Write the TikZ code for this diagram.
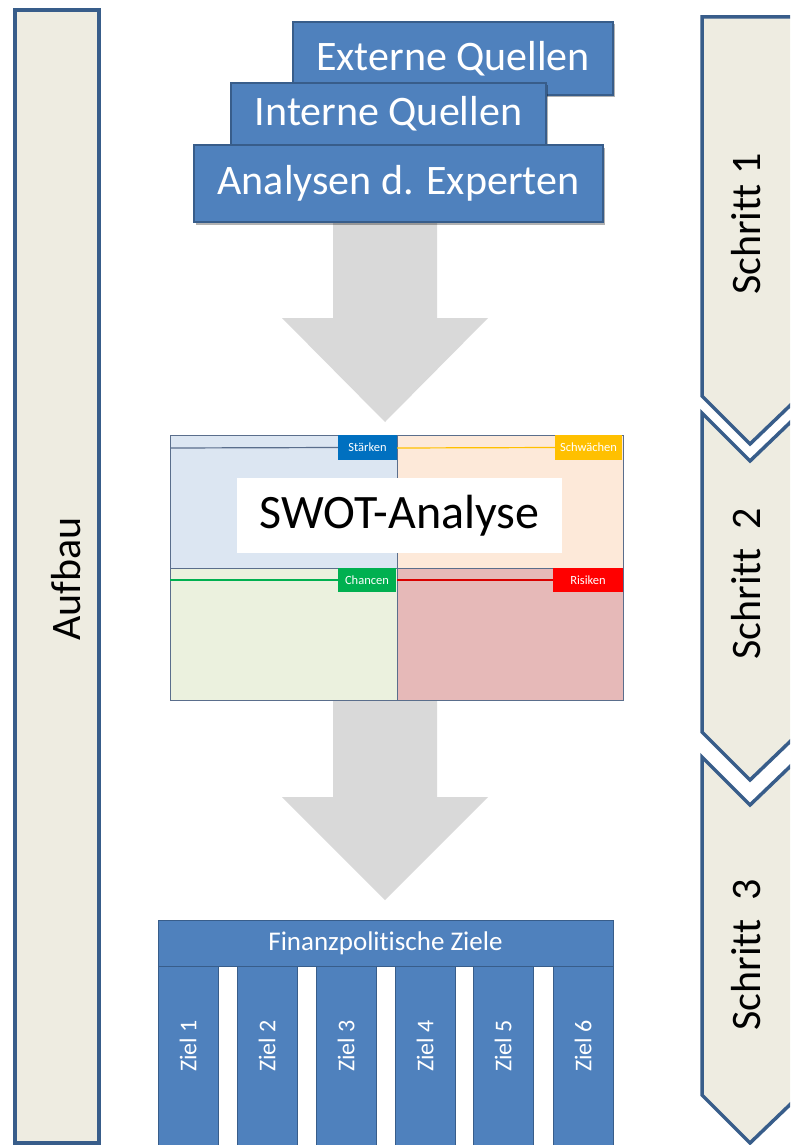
\documentclass[tikz,border=0pt]{standalone}
\usepackage{fontspec}
\setmainfont{Carlito}[Ligatures={NoCommon,NoContextual}]
\usetikzlibrary{shadows}
\definecolor{bluefill}{HTML}{4F81BD}
\definecolor{blueline}{HTML}{385D8A}
\definecolor{tanfill}{HTML}{EEECE1}
\definecolor{arrowgray}{HTML}{D9D9D9}
\definecolor{qtl}{HTML}{DCE6F2}
\definecolor{qtr}{HTML}{FDE9D9}
\definecolor{qbl}{HTML}{EBF1DE}
\definecolor{qbr}{HTML}{E6B9B8}
\definecolor{qline}{HTML}{5A6E8C}
\definecolor{labblue}{HTML}{0070C0}
\definecolor{labyellow}{HTML}{FFC000}
\definecolor{labgreen}{HTML}{00B050}
\definecolor{labred}{HTML}{FF0000}
\tikzset{
  bluebox/.style={draw=blueline, line width=1.5pt, fill=bluefill, text=white, inner sep=0pt,
    font=\fontsize{42}{50}\selectfont,
    drop shadow={opacity=0.3, shadow xshift=1.5pt, shadow yshift=-2.5pt, fill=black}},
  chev/.style={draw=blueline, fill=tanfill, line width=3.5pt, line join=miter},
  steptext/.style={rotate=90, font=\fontsize{42}{50}\selectfont, inner sep=0pt},
  bigarrow/.style={fill=arrowgray, draw=none},
  swotlab/.style={text=white, inner sep=0pt, font=\fontsize{12.5}{14}\selectfont},
  colbox/.style={draw=blueline, line width=1pt, fill=bluefill, inner sep=0pt,
    minimum width=60pt, minimum height=190pt},
  coltext/.style={rotate=90, text=white, inner sep=0pt, font=\fontsize{24}{28}\selectfont},
}
\begin{document}
\begin{tikzpicture}[x=1pt, y=-1pt]
\useasboundingbox (0,0) rectangle (790,1145);
\clip (0,0) rectangle (790,1145);
\fill[white] (0,0) rectangle (790,1145);

% Aufbau bar
\node[draw=blueline, line width=4pt, fill=tanfill, minimum width=84pt, minimum height=1133pt, inner sep=0pt] (aufbau) at (57,576.5) {};
\node[steptext] (aufbautext) at (66,579) {Aufbau};

% chevrons
\draw[chev] (702,17) -- (800,17) -- (800,396) -- (750,444) -- (702,396) -- cycle;
\node[steptext] (s1) at (746,224) {Schritt 1};
\draw[chev] (702,413) -- (750,461) -- (800,413) -- (800,732) -- (750,780) -- (702,732) -- cycle;
\node[steptext] (s2) at (746,584) {Schritt\ \ 2};
\draw[chev] (702,757) -- (750,805) -- (800,757) -- (800,1095) -- (750,1143) -- (702,1095) -- cycle;
\node[steptext] (s3) at (746,955) {Schritt\ \ 3};

% gray block arrows
\fill[bigarrow] (333,215) -- (437,215) -- (437,318) -- (488,318) -- (385,422) -- (282,318) -- (333,318) -- cycle;
\fill[bigarrow] (333,700) -- (437,700) -- (437,797) -- (488,797) -- (385,900) -- (282,797) -- (333,797) -- cycle;

% source boxes
\node[bluebox, minimum width=320pt, minimum height=73pt] (ext) at (453,58.5) {Externe Quellen};
\node[bluebox, minimum width=315pt, minimum height=62pt] (int) at (388.5,114) {Interne Quellen};
\node[bluebox, minimum width=409pt, minimum height=77pt] (ana) at (398.5,183.5) {Analysen d. Experten};

% SWOT
\fill[qtl] (170,435) rectangle (397,568);
\fill[qtr] (397,435) rectangle (623,568);
\fill[qbl] (170,568) rectangle (397,700);
\fill[qbr] (397,568) rectangle (623,700);
\draw[qline, line width=1pt] (170,435) rectangle (623,700);
\draw[qline, line width=1pt] (397,435) -- (397,700);
\draw[qline, line width=1pt] (170,568) -- (623,568);
\node[swotlab, fill=labblue, minimum width=59pt, minimum height=25pt] (st) at (367.5,447.5) {Stärken};
\node[swotlab, fill=labyellow, minimum width=67pt, minimum height=25pt] (sw) at (588.5,447.5) {Schwächen};
\node[swotlab, fill=labgreen, minimum width=58pt, minimum height=24pt] (ch) at (367,580) {Chancen};
\node[swotlab, fill=labred, minimum width=70pt, minimum height=24pt] (ri) at (588,580) {Risiken};
\coordinate (tlstart) at (170,448);
\coordinate (trstart) at (397,448);
\coordinate (blstart) at (170,580);
\coordinate (brstart) at (397,580);
\draw[qline, line width=1.2pt] (tlstart) -- (st.west);
\draw[labyellow, line width=1.2pt] (trstart) -- (sw.west);
\draw[labgreen, line width=1.2pt] (blstart) -- (ch.west);
\draw[labred!85!black, line width=1.2pt] (brstart) -- (ri.west);
\node[fill=white, minimum width=325pt, minimum height=75pt, inner sep=0pt, font=\fontsize{48}{56}\selectfont] (swot) at (399.5,515.5) {SWOT-Analyse};

% Finanzpolitische Ziele
\node[draw=blueline, line width=1pt, fill=bluefill, text=white, inner sep=0pt, minimum width=455pt, minimum height=46pt, font=\fontsize{27}{32}\selectfont] (fz) at (385.5,943) {Finanzpolitische Ziele};
\foreach \i/\x in {1/188, 2/267, 3/346, 4/425, 5/503, 6/583} {
  \node[colbox] (col\i) at (\x,1061) {};
  \node[coltext] (ziel\i) at (\x,1046) {Ziel \i};
}
\end{tikzpicture}
\end{document}
